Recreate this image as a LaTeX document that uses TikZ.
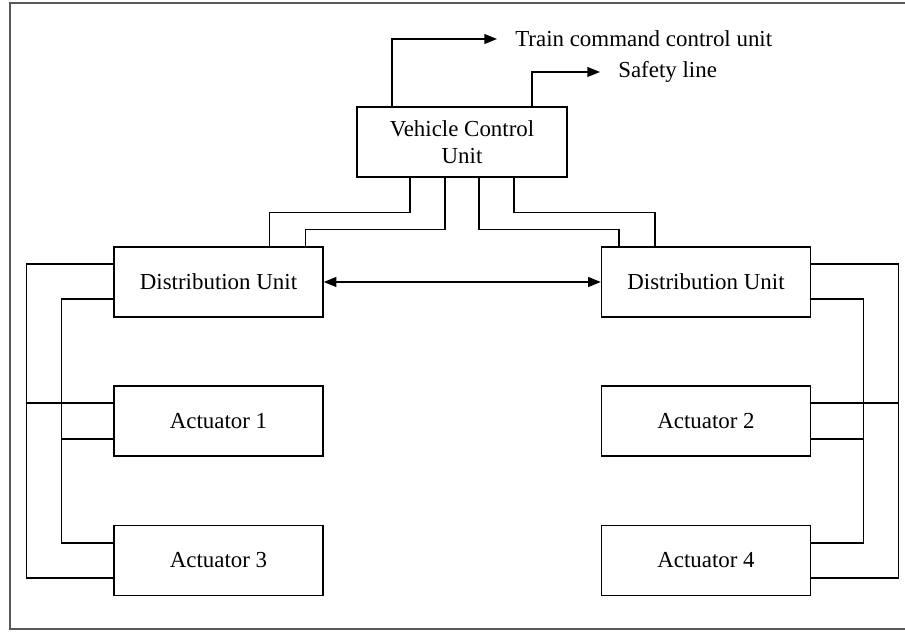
\documentclass[tikz,border=0pt]{standalone}
\usepackage{fontspec}
\setmainfont{Liberation Serif}
\usetikzlibrary{arrows.meta}

\tikzset{
	unit/.style={rectangle, draw, line width=1pt, minimum width=5.225cm, minimum height=1.75cm, align=center},
	bus/.style={line width=1pt},
	outlbl/.style={anchor=west, inner xsep=0.45cm, inner ysep=0pt}
}

\begin{document}
\begin{tikzpicture}[font=\fontsize{16.3}{19.5}\selectfont, >={Triangle[length=9pt,width=7pt]}]
	\useasboundingbox (0,0) rectangle (22.625,-15.8);

	\node at (11.55,-3.55) [unit, minimum width=5.25cm] (vcu) {Vehicle Control\\Unit};
	\node at (5.4625,-7.05) [unit] (dul) {Distribution Unit};
	\node at (17.65,-7.05) [unit] (dur) {Distribution Unit};
	\node at (5.4625,-10.525) [unit] (act1) {Actuator 1};
	\node at (5.4625,-14.0125) [unit] (act3) {Actuator 3};
	\node at (17.65,-10.525) [unit] (act2) {Actuator 2};
	\node at (17.65,-14.0125) [unit] (act4) {Actuator 4};

	\node at (12.425,-0.975) [outlbl] (tccu) {Train command control unit};
	\node at (15.0,-1.8) [outlbl] (safety) {Safety line};

	% outputs of the vehicle control unit
	\draw [->, bus] ([xshift=-1.75cm]vcu.north) |- (tccu.west);
	\draw [->, bus] ([xshift=1.75cm]vcu.north) |- (safety.west);

	% vehicle control unit to distribution units
	\draw [bus] ([xshift=-1.3cm]vcu.south) -- ++(0,-0.875) -| ([xshift=1.275cm]dul.north);
	\draw [bus] ([xshift=-0.425cm]vcu.south) -- ++(0,-1.3) -| ([xshift=2.175cm]dul.north);
	\draw [bus] ([xshift=0.425cm]vcu.south) -- ++(0,-1.3) -| ([xshift=-2.175cm]dur.north);
	\draw [bus] ([xshift=1.3cm]vcu.south) -- ++(0,-0.875) -| ([xshift=-1.275cm]dur.north);

	\draw [<->, bus] (dul) -- (dur);

	% left actuators
	\draw [bus] ([yshift=0.45cm]dul.west) -- ++(-2.175,0) |- ([yshift=-0.4375cm]act3.west);
	\draw [bus] ([yshift=0.45cm]act1.west) -- ++(-2.175,0);
	\draw [bus] ([yshift=-0.425cm]dul.west) -- ++(-1.3,0) |- ([yshift=0.4375cm]act3.west);
	\draw [bus] ([yshift=-0.45cm]act1.west) -- ++(-1.3,0);

	% right actuators
	\draw [bus] ([yshift=0.45cm]dur.east) -- ++(2.175,0) |- ([yshift=-0.4375cm]act4.east);
	\draw [bus] ([yshift=0.45cm]act2.east) -- ++(2.175,0);
	\draw [bus] ([yshift=-0.425cm]dur.east) -- ++(1.3,0) |- ([yshift=0.4375cm]act4.east);
	\draw [bus] ([yshift=-0.45cm]act2.east) -- ++(1.3,0);

	\draw [line width=1.2pt, gray!70!black] (23,-0.075) -- (0.25,-0.075) -- (0.25,-15.725) -- (23,-15.725);

\end{tikzpicture}
\end{document}
